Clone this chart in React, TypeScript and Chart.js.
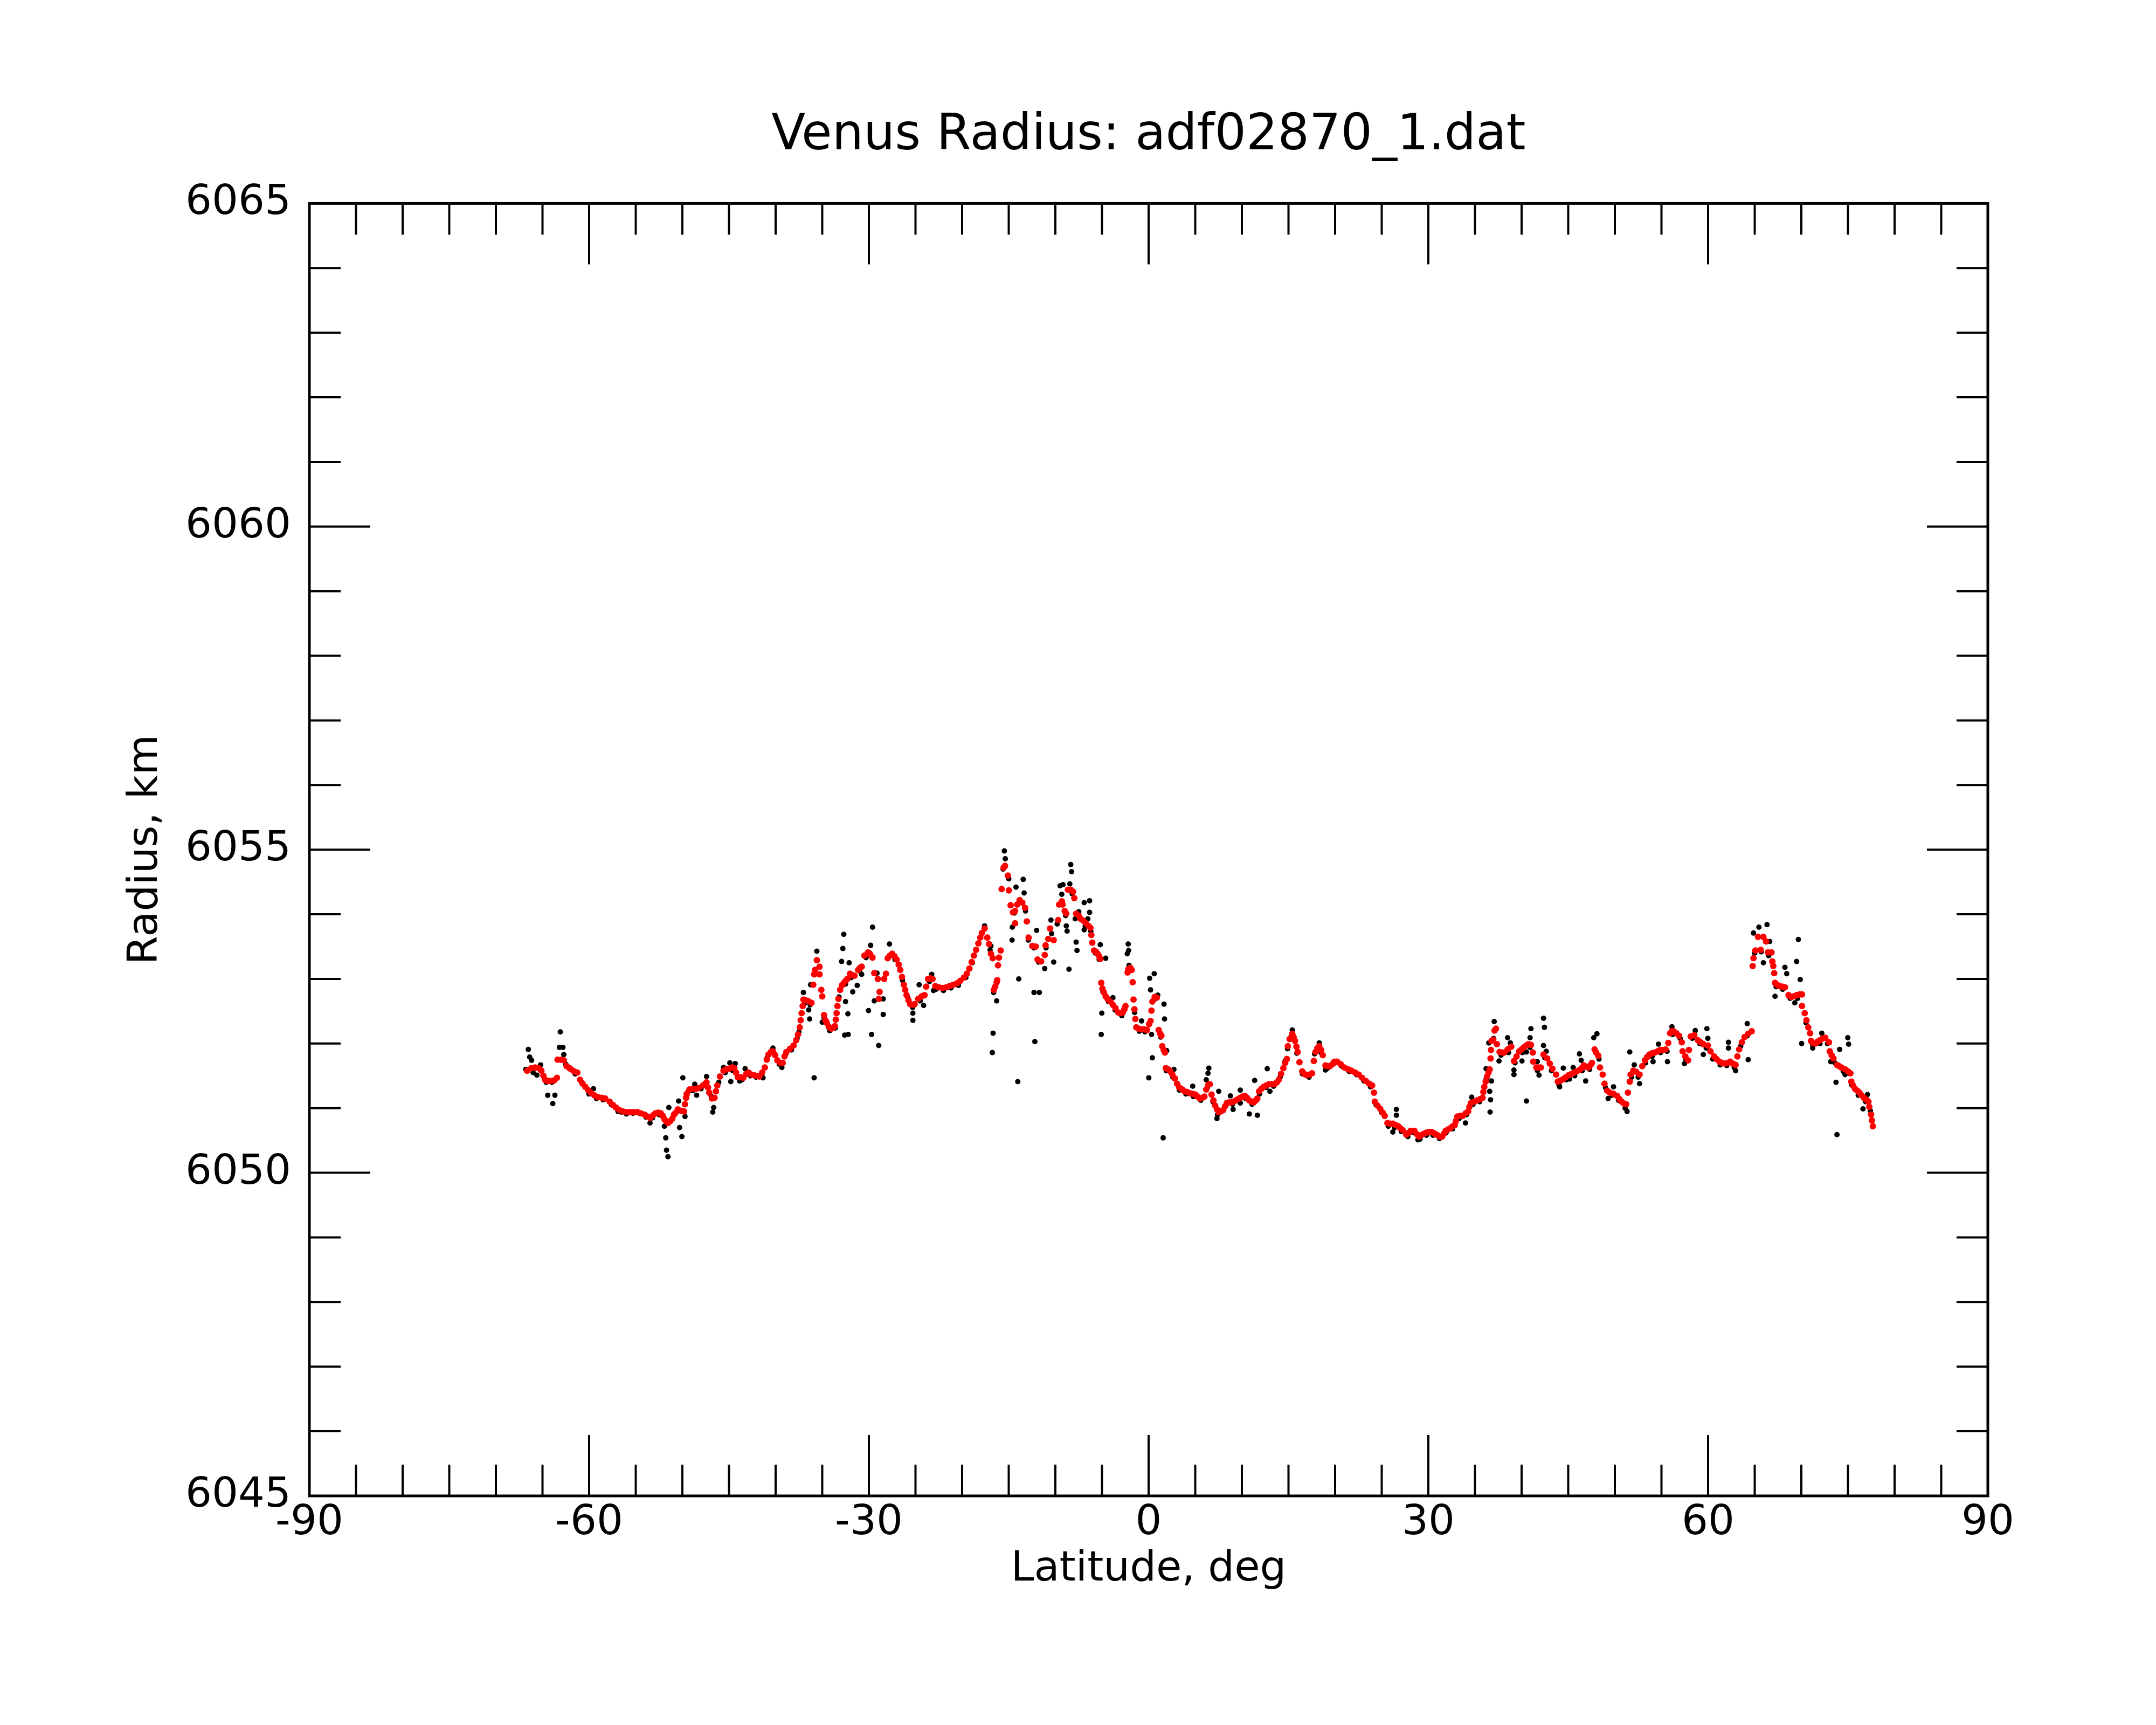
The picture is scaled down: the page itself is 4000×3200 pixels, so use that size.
import React, { useEffect, useRef } from 'react';
import { Chart, registerables } from 'chart.js';

Chart.register(...registerables);

const FONT = 'DejaVu Sans';

const chartTitle = 'Venus Radius: adf02870_1.dat';
const xTitle = 'Latitude, deg';
const yTitle = 'Radius, km';

// axis ranges and tick steps
const xRange = [-90, 90];
const yRange = [6045, 6065];
const xMajorStep = 30;
const xMinorStep = 5;
const yMajorStep = 5;
const yMinorStep = 1;

// smoothed profile (red), [latitude, radius]
const smoothProfile: [number, number][] = [
  [-66.65, 6051.58], [-66.2, 6051.62], [-65.79, 6051.63], [-65.4, 6051.62], [-65.12, 6051.58],
  [-64.9, 6051.5], [-64.73, 6051.44], [-64.45, 6051.42], [-64.15, 6051.42], [-63.75, 6051.43],
  [-63.45, 6051.47], [-63.38, 6051.75], [-63.0, 6051.75], [-62.71, 6051.74], [-62.42, 6051.65],
  [-62.1, 6051.62], [-61.94, 6051.6], [-61.6, 6051.57], [-61.27, 6051.55], [-60.98, 6051.44],
  [-60.7, 6051.38], [-60.4, 6051.33], [-60.1, 6051.28], [-59.82, 6051.24], [-59.45, 6051.2],
  [-59.05, 6051.17], [-58.65, 6051.16], [-58.28, 6051.15], [-57.8, 6051.1], [-57.45, 6051.05],
  [-57.13, 6051.01], [-56.75, 6050.97], [-56.36, 6050.95], [-55.95, 6050.94], [-55.59, 6050.94],
  [-55.2, 6050.94], [-54.82, 6050.94], [-54.45, 6050.92], [-54.05, 6050.9], [-53.75, 6050.87],
  [-53.47, 6050.85], [-53.15, 6050.89], [-52.9, 6050.92], [-52.6, 6050.93], [-52.32, 6050.92],
  [-52.1, 6050.88], [-51.93, 6050.83], [-51.75, 6050.8], [-51.55, 6050.77], [-51.3, 6050.8],
  [-51.07, 6050.84], [-50.9, 6050.9], [-50.78, 6050.92], [-50.49, 6050.98], [-50.15, 6050.96],
  [-49.82, 6050.95], [-49.72, 6051.06], [-49.6, 6051.16], [-49.53, 6051.22], [-49.24, 6051.29],
  [-48.86, 6051.3], [-48.55, 6051.3], [-48.28, 6051.31], [-47.8, 6051.35], [-47.41, 6051.4],
  [-47.25, 6051.32], [-47.12, 6051.24], [-46.83, 6051.15], [-46.55, 6051.16], [-46.4, 6051.26],
  [-46.26, 6051.35], [-45.97, 6051.49], [-45.59, 6051.58], [-45.3, 6051.6], [-45.01, 6051.61],
  [-44.7, 6051.63], [-44.43, 6051.62], [-44.25, 6051.55], [-44.05, 6051.48], [-43.75, 6051.48],
  [-43.47, 6051.47], [-43.15, 6051.53], [-42.89, 6051.55], [-42.6, 6051.52], [-42.31, 6051.51],
  [-42.0, 6051.5], [-41.74, 6051.49], [-41.45, 6051.55], [-41.16, 6051.63], [-40.95, 6051.75],
  [-40.77, 6051.83], [-40.5, 6051.87], [-40.29, 6051.88], [-40.05, 6051.82], [-39.81, 6051.74],
  [-39.5, 6051.7], [-39.24, 6051.7], [-39.05, 6051.8], [-38.85, 6051.87], [-38.45, 6051.92],
  [-38.08, 6051.97], [-37.8, 6052.05], [-37.6, 6052.14], [-37.41, 6052.25], [-37.31, 6052.36],
  [-37.21, 6052.47], [-37.1, 6052.58], [-37.02, 6052.68], [-36.8, 6052.67], [-36.54, 6052.66],
  [-36.16, 6052.63], [-35.96, 6052.91], [-35.87, 6053.07], [-35.77, 6053.14], [-35.58, 6053.29],
  [-35.29, 6053.19], [-35.29, 6053.07], [-35.1, 6052.83], [-35.0, 6052.73], [-34.81, 6052.44],
  [-34.65, 6052.36], [-34.52, 6052.32], [-34.3, 6052.26], [-34.04, 6052.23], [-33.85, 6052.24],
  [-33.65, 6052.27], [-33.55, 6052.37], [-33.46, 6052.47], [-33.37, 6052.58], [-33.27, 6052.69],
  [-33.08, 6052.83], [-32.9, 6052.9], [-32.69, 6052.94], [-32.5, 6052.97], [-32.31, 6053.0],
  [-32.02, 6053.08], [-31.8, 6053.06], [-31.54, 6053.05], [-31.15, 6053.14], [-30.95, 6053.17],
  [-30.77, 6053.19], [-30.48, 6053.36], [-30.09, 6053.41], [-29.85, 6053.38], [-29.61, 6053.33],
  [-29.42, 6053.09], [-29.04, 6053.0], [-28.85, 6052.8], [-28.94, 6052.69], [-28.36, 6053.0],
  [-28.17, 6053.08], [-27.98, 6053.32], [-27.75, 6053.36], [-27.5, 6053.39], [-27.25, 6053.35],
  [-27.02, 6053.3], [-26.8, 6053.22], [-26.63, 6053.14], [-26.45, 6053.03], [-26.25, 6052.91],
  [-26.1, 6052.83], [-25.96, 6052.75], [-25.75, 6052.67], [-25.57, 6052.61], [-25.3, 6052.6],
  [-25.09, 6052.61], [-24.71, 6052.69], [-24.35, 6052.73], [-24.03, 6052.75], [-23.85, 6052.88],
  [-23.65, 6053.0], [-23.4, 6053.01], [-23.17, 6053.0], [-22.88, 6052.89], [-22.5, 6052.87],
  [-22.11, 6052.86], [-21.7, 6052.87], [-21.34, 6052.89], [-20.95, 6052.91], [-20.57, 6052.93],
  [-20.2, 6052.97], [-19.8, 6053.02], [-19.5, 6053.08], [-19.22, 6053.16], [-18.98, 6053.26],
  [-18.74, 6053.36], [-18.5, 6053.45], [-18.26, 6053.55], [-18.05, 6053.64], [-17.88, 6053.71],
  [-17.59, 6053.78], [-17.3, 6053.64], [-17.11, 6053.54], [-16.91, 6053.39], [-16.72, 6053.32],
  [-16.6, 6052.83], [-16.45, 6052.88], [-16.3, 6052.95], [-16.24, 6052.98], [-16.15, 6053.21],
  [-16.05, 6053.33], [-15.86, 6053.44], [-15.76, 6054.39], [-15.55, 6054.72], [-15.4, 6054.75],
  [-15.09, 6054.6], [-14.99, 6054.37], [-14.8, 6054.14], [-14.55, 6054.03], [-14.32, 6054.05],
  [-14.1, 6054.15], [-13.83, 6054.22], [-13.55, 6054.18], [-13.25, 6054.1], [-14.32, 6053.86],
  [-13.06, 6053.89], [-12.87, 6053.64], [-12.48, 6053.51], [-12.1, 6053.5], [-11.91, 6053.3],
  [-11.53, 6053.27], [-11.14, 6053.37], [-11.05, 6053.52], [-10.76, 6053.62], [-10.57, 6053.78],
  [-10.18, 6053.6], [-9.7, 6053.91], [-9.6, 6054.15], [-9.3, 6054.2], [-9.22, 6054.15],
  [-9.0, 6054.05], [-8.83, 6054.01], [-8.65, 6054.38], [-8.35, 6054.38], [-8.1, 6054.35],
  [-7.97, 6054.25], [-7.77, 6054.01], [-7.5, 6053.98], [-7.29, 6053.93], [-7.0, 6053.9],
  [-6.72, 6053.86], [-6.45, 6053.82], [-6.24, 6053.79], [-6.14, 6053.68], [-6.04, 6053.56],
  [-5.85, 6053.44], [-5.65, 6053.42], [-5.47, 6053.39], [-5.3, 6053.35], [-5.18, 6053.31],
  [-5.08, 6052.94], [-4.95, 6052.85], [-4.79, 6052.79], [-4.6, 6052.73], [-4.41, 6052.69],
  [-4.1, 6052.65], [-3.83, 6052.6], [-3.55, 6052.55], [-3.25, 6052.48], [-3.0, 6052.47],
  [-2.77, 6052.48], [-2.6, 6052.53], [-2.48, 6052.58], [-2.25, 6053.1], [-2.19, 6053.15],
  [-1.95, 6053.17], [-1.81, 6053.14], [-1.71, 6052.95], [-1.62, 6052.68], [-1.52, 6052.53],
  [-1.42, 6052.38], [-1.33, 6052.25], [-1.05, 6052.23], [-0.75, 6052.22], [-0.45, 6052.22],
  [-0.17, 6052.21], [0.05, 6052.3], [0.21, 6052.35], [0.31, 6052.51], [0.4, 6052.65],
  [0.65, 6052.72], [0.88, 6052.71], [1.08, 6052.21], [1.25, 6052.15], [1.37, 6052.12],
  [1.46, 6051.96], [1.62, 6051.9], [1.75, 6051.86], [1.85, 6051.62], [2.1, 6051.6],
  [2.33, 6051.57], [2.55, 6051.52], [2.81, 6051.46], [3.05, 6051.38], [3.29, 6051.32],
  [3.6, 6051.29], [3.87, 6051.26], [4.15, 6051.25], [4.45, 6051.23], [4.75, 6051.22],
  [5.02, 6051.21], [5.25, 6051.18], [5.5, 6051.15], [5.75, 6051.16], [5.98, 6051.18],
  [6.18, 6051.29], [6.4, 6051.36], [6.56, 6051.37], [6.75, 6051.21], [6.95, 6051.12],
  [7.14, 6051.04], [7.33, 6050.98], [7.52, 6050.94], [7.75, 6050.95], [8.0, 6050.97],
  [8.2, 6051.03], [8.39, 6051.08], [8.6, 6051.09], [8.87, 6051.09], [9.1, 6051.1],
  [9.35, 6051.12], [9.6, 6051.14], [9.83, 6051.16], [10.05, 6051.18], [10.32, 6051.19],
  [10.55, 6051.16], [10.8, 6051.12], [11.05, 6051.1], [11.28, 6051.09], [11.5, 6051.12],
  [11.66, 6051.15], [11.85, 6051.26], [12.1, 6051.3], [12.33, 6051.33], [12.6, 6051.35],
  [12.91, 6051.37], [13.2, 6051.37], [13.49, 6051.37], [13.75, 6051.4], [13.97, 6051.44],
  [14.2, 6051.53], [14.45, 6051.62], [14.65, 6051.7], [14.83, 6051.76], [14.93, 6051.96],
  [15.12, 6052.07], [15.41, 6052.15], [15.55, 6052.1], [15.7, 6052.04], [15.85, 6051.95],
  [15.99, 6051.87], [16.18, 6051.71], [16.47, 6051.57], [16.7, 6051.53], [16.95, 6051.51],
  [17.25, 6051.52], [17.53, 6051.54], [17.72, 6051.73], [17.91, 6051.87], [18.1, 6051.93],
  [18.3, 6051.96], [18.5, 6051.9], [18.68, 6051.82], [18.97, 6051.66], [19.2, 6051.65],
  [19.45, 6051.65], [19.7, 6051.68], [19.93, 6051.72], [20.22, 6051.72], [20.6, 6051.68],
  [20.99, 6051.63], [21.4, 6051.6], [21.76, 6051.58], [22.15, 6051.55], [22.53, 6051.52],
  [22.9, 6051.47], [23.3, 6051.42], [23.65, 6051.38], [23.97, 6051.35], [24.17, 6051.24],
  [24.26, 6051.1], [24.55, 6051.04], [24.84, 6050.99], [25.1, 6050.93], [25.32, 6050.88],
  [25.61, 6050.77], [25.9, 6050.76], [26.19, 6050.76], [26.5, 6050.74], [26.77, 6050.72],
  [27.0, 6050.69], [27.25, 6050.66], [27.63, 6050.59], [27.9, 6050.62], [28.11, 6050.65],
  [28.5, 6050.65], [28.75, 6050.6], [28.98, 6050.56], [29.2, 6050.58], [29.46, 6050.6],
  [29.75, 6050.62], [30.04, 6050.63], [30.3, 6050.63], [30.52, 6050.62], [30.75, 6050.6],
  [31.0, 6050.58], [31.25, 6050.56], [31.48, 6050.56], [31.7, 6050.61], [31.86, 6050.65],
  [32.1, 6050.67], [32.35, 6050.69], [32.6, 6050.72], [32.83, 6050.74], [32.95, 6050.8],
  [33.11, 6050.87], [33.4, 6050.88], [33.69, 6050.88], [34.0, 6050.92], [34.27, 6050.95],
  [34.4, 6051.02], [34.56, 6051.08], [34.9, 6051.1], [35.23, 6051.12], [35.55, 6051.14],
  [35.81, 6051.16], [35.9, 6051.25], [36.0, 6051.33], [36.15, 6051.41], [36.29, 6051.49],
  [36.45, 6051.55], [36.58, 6051.6], [36.67, 6051.77], [36.72, 6051.9], [36.77, 6052.04],
  [36.96, 6052.06], [37.1, 6052.2], [37.25, 6052.23], [37.35, 6051.99], [37.64, 6051.87],
  [37.9, 6051.86], [38.12, 6051.86], [38.5, 6051.91], [38.89, 6051.95], [39.18, 6051.73],
  [39.46, 6051.8], [39.75, 6051.88], [40.0, 6051.91], [40.23, 6051.94], [40.5, 6051.97],
  [40.72, 6051.99], [41.0, 6051.98], [41.2, 6051.86], [41.25, 6051.72], [41.58, 6051.63],
  [41.85, 6051.63], [42.06, 6051.63], [42.35, 6051.83], [42.74, 6051.77], [43.02, 6051.69],
  [43.31, 6051.61], [43.7, 6051.52], [43.89, 6051.41], [44.2, 6051.43], [44.47, 6051.45],
  [44.75, 6051.48], [45.04, 6051.51], [45.35, 6051.53], [45.62, 6051.55], [45.9, 6051.57],
  [46.2, 6051.59], [46.45, 6051.62], [46.68, 6051.66], [46.95, 6051.64], [47.16, 6051.63],
  [47.4, 6051.67], [47.55, 6051.7], [47.83, 6051.91], [48.0, 6051.86], [48.22, 6051.81],
  [48.41, 6051.63], [48.7, 6051.52], [48.89, 6051.38], [49.18, 6051.27], [49.48, 6051.24],
  [49.86, 6051.22], [50.25, 6051.19], [50.5, 6051.14], [50.73, 6051.1], [51.0, 6051.07],
  [51.21, 6051.06], [51.4, 6051.24], [51.6, 6051.41], [51.69, 6051.52], [51.98, 6051.58],
  [52.3, 6051.56], [52.65, 6051.52], [52.94, 6051.65], [53.23, 6051.74], [53.45, 6051.79],
  [53.71, 6051.83], [54.0, 6051.85], [54.29, 6051.86], [54.6, 6051.88], [54.87, 6051.9],
  [55.15, 6051.9], [55.45, 6051.91], [55.73, 6052.01], [55.93, 6052.16], [56.1, 6052.19],
  [56.31, 6052.19], [56.6, 6052.16], [56.89, 6052.12], [57.18, 6052.02], [57.27, 6051.88],
  [57.56, 6051.8], [57.85, 6051.74], [57.95, 6051.9], [58.14, 6052.11], [58.52, 6052.13],
  [58.91, 6052.05], [59.2, 6052.02], [59.49, 6051.99], [59.97, 6051.97], [60.26, 6051.88],
  [60.64, 6051.8], [60.9, 6051.76], [61.22, 6051.72], [61.5, 6051.7], [61.8, 6051.69],
  [62.1, 6051.7], [62.37, 6051.72], [62.65, 6051.69], [62.95, 6051.67], [63.14, 6051.8],
  [63.33, 6051.91], [63.62, 6052.02], [63.91, 6052.1], [64.3, 6052.15], [64.68, 6052.19],
  [64.78, 6053.2], [64.87, 6053.32], [65.07, 6053.44], [65.35, 6053.65], [65.64, 6053.45],
  [65.93, 6053.65], [66.22, 6053.58], [66.41, 6053.41], [66.8, 6053.41], [66.89, 6053.27],
  [66.99, 6053.2], [67.09, 6053.09], [67.18, 6052.94], [67.4, 6052.91], [67.66, 6052.89],
  [67.95, 6052.88], [68.24, 6052.87], [68.63, 6052.75], [68.91, 6052.72], [69.2, 6052.73],
  [69.49, 6052.75], [69.8, 6052.76], [70.07, 6052.76], [70.07, 6052.58], [70.36, 6052.47],
  [70.55, 6052.36], [70.74, 6052.25], [70.94, 6052.16], [71.03, 6052.04], [71.25, 6052.01],
  [71.51, 6052.0], [71.75, 6052.03], [71.99, 6052.05], [72.3, 6052.08], [72.57, 6052.09],
  [72.96, 6052.02], [73.05, 6051.88], [73.25, 6051.82], [73.44, 6051.77], [73.82, 6051.67],
  [74.05, 6051.65], [74.3, 6051.63], [74.69, 6051.6], [75.0, 6051.57], [75.26, 6051.54],
  [75.36, 6051.41], [75.55, 6051.35], [75.75, 6051.3], [76.0, 6051.27], [76.23, 6051.24],
  [76.45, 6051.2], [76.71, 6051.16], [77.0, 6051.13], [77.19, 6051.1], [77.29, 6051.02],
  [77.48, 6050.9], [77.57, 6050.81], [77.67, 6050.72],
];

// raw measurements lying close to the profile (black)
const rawNearProfile: [number, number][] = [
  [-66.8, 6051.6], [-66.0, 6051.55], [-65.3, 6051.6], [-64.6, 6051.4], [-64.0, 6051.4],
  [-62.5, 6051.68], [-61.5, 6051.53], [-60.8, 6051.4], [-60.0, 6051.26], [-59.2, 6051.15],
  [-58.5, 6051.13], [-57.6, 6051.05], [-56.9, 6050.95], [-56.0, 6050.91], [-55.3, 6050.92],
  [-54.6, 6050.92], [-53.9, 6050.86], [-53.2, 6050.85], [-52.5, 6050.9], [-50.6, 6050.95],
  [-49.4, 6051.25], [-48.9, 6051.27], [-48.0, 6051.3], [-47.6, 6051.38], [-46.9, 6051.18],
  [-46.1, 6051.4], [-45.4, 6051.55], [-44.6, 6051.58], [-43.6, 6051.44], [-42.7, 6051.5],
  [-42.1, 6051.48], [-41.5, 6051.52], [-40.9, 6051.78], [-40.1, 6051.84], [-39.6, 6051.68],
  [-38.9, 6051.84], [-38.3, 6051.9], [-37.7, 6052.08], [-37.5, 6052.18], [-36.9, 6052.62],
  [-36.3, 6052.6], [-34.8, 6052.4], [-34.2, 6052.2], [-33.6, 6052.24], [-33.2, 6052.72],
  [-32.5, 6052.92], [-31.9, 6053.02], [-31.0, 6053.12], [-30.3, 6053.33], [-29.9, 6053.4],
  [-27.8, 6053.36], [-27.2, 6053.3], [-26.4, 6052.98], [-25.8, 6052.7], [-25.3, 6052.56],
  [-24.5, 6052.66], [-23.5, 6052.96], [-22.8, 6052.84], [-22.0, 6052.82], [-21.2, 6052.86],
  [-20.4, 6052.9], [-19.6, 6053.02], [-18.9, 6053.25], [-18.2, 6053.55], [-17.6, 6053.8],
  [-17.0, 6053.45], [-15.6, 6054.7], [-15.0, 6054.55], [-14.4, 6054.02], [-13.9, 6054.18],
  [-13.2, 6054.05], [-12.9, 6053.6], [-12.3, 6053.48], [-11.8, 6053.26], [-11.0, 6053.48],
  [-10.4, 6053.7], [-9.8, 6053.85], [-8.9, 6053.98], [-8.2, 6054.32], [-7.6, 6053.96],
  [-6.8, 6053.82], [-6.2, 6053.74], [-5.7, 6053.4], [-5.3, 6053.3], [-4.9, 6052.8],
  [-4.3, 6052.65], [-3.6, 6052.52], [-2.9, 6052.44], [-2.1, 6053.12], [-1.5, 6052.48],
  [-1.0, 6052.19], [-0.4, 6052.18], [0.6, 6052.68], [1.3, 6052.1], [1.9, 6051.58],
  [2.6, 6051.48], [3.3, 6051.28], [4.0, 6051.22], [4.8, 6051.18], [5.6, 6051.12],
  [6.3, 6051.32], [6.9, 6051.1], [7.4, 6050.9], [8.3, 6051.04], [9.0, 6051.06],
  [9.7, 6051.13], [10.4, 6051.15], [11.1, 6051.06], [11.9, 6051.22], [12.6, 6051.32],
  [13.4, 6051.34], [14.1, 6051.48], [14.9, 6051.92], [15.3, 6052.12], [15.9, 6051.85],
  [16.5, 6051.53], [17.2, 6051.48], [17.8, 6051.84], [18.5, 6051.86], [19.2, 6051.62],
  [20.0, 6051.7], [20.7, 6051.65], [21.5, 6051.57], [22.3, 6051.52], [23.1, 6051.42],
  [23.8, 6051.33], [24.4, 6051.05], [25.0, 6050.93], [25.7, 6050.72], [26.4, 6050.7],
  [27.1, 6050.64], [27.8, 6050.56], [28.4, 6050.62], [29.1, 6050.52], [29.8, 6050.58],
  [30.5, 6050.58], [31.2, 6050.53], [31.9, 6050.62], [32.6, 6050.68], [33.3, 6050.84],
  [34.1, 6050.9], [34.8, 6051.06], [35.5, 6051.1], [36.2, 6051.45], [37.0, 6052.08],
  [37.8, 6051.82], [38.6, 6051.86], [39.3, 6051.7], [40.1, 6051.86], [40.9, 6051.94],
  [41.7, 6051.58], [42.5, 6051.78], [43.2, 6051.58], [44.0, 6051.36], [44.8, 6051.44],
  [45.7, 6051.5], [46.5, 6051.58], [47.3, 6051.6], [48.3, 6051.76], [49.0, 6051.32],
  [49.7, 6051.2], [50.4, 6051.12], [51.1, 6051.0], [51.8, 6051.48], [52.5, 6051.48],
  [53.3, 6051.7], [54.0, 6051.8], [54.9, 6051.86], [55.6, 6051.88], [56.2, 6052.14],
  [57.0, 6052.08], [57.6, 6051.76], [58.3, 6052.08], [59.1, 6052.0], [59.8, 6051.93],
  [60.5, 6051.76], [61.3, 6051.67], [62.0, 6051.66], [62.8, 6051.63], [63.5, 6051.96],
  [64.2, 6052.12], [65.0, 6053.4], [65.7, 6053.42], [66.5, 6053.36], [67.3, 6052.88],
  [68.0, 6052.84], [68.8, 6052.7], [69.6, 6052.7], [70.5, 6052.32], [71.2, 6051.98],
  [72.0, 6052.0], [72.8, 6052.0], [73.6, 6051.7], [74.5, 6051.57], [75.4, 6051.36],
  [76.1, 6051.2], [76.9, 6051.1], [77.4, 6050.96],
];

// raw measurements scattered away from the profile (black)
const rawScatter: [number, number][] = [
  [-66.52, 6051.91], [-66.37, 6051.79], [-66.17, 6051.74], [-65.21, 6051.67], [-65.6, 6051.51],
  [-64.44, 6051.2], [-63.67, 6051.2], [-63.9, 6051.07], [-63.09, 6052.18], [-63.19, 6051.94],
  [-62.81, 6051.94], [-62.71, 6051.83], [-62.13, 6051.63], [-60.02, 6051.22], [-59.53, 6051.3],
  [-56.55, 6050.94], [-53.47, 6050.77], [-51.93, 6050.72], [-51.78, 6050.54], [-51.7, 6050.35],
  [-51.55, 6050.25], [-51.45, 6051.01], [-50.4, 6051.11], [-50.3, 6050.7], [-50.05, 6050.56],
  [-49.95, 6051.47], [-49.72, 6050.87], [-48.67, 6051.37], [-48.47, 6051.2], [-47.41, 6051.49],
  [-46.74, 6050.94], [-46.64, 6051.01], [-45.58, 6051.63], [-44.91, 6051.7], [-44.33, 6051.69],
  [-44.81, 6051.41], [-43.85, 6051.42], [-43.27, 6051.61], [-41.35, 6051.47], [-40.29, 6051.93],
  [-39.33, 6051.63],
  [-35.87, 6051.47], [-36.35, 6052.38], [-36.45, 6052.52], [-37.02, 6052.79], [-35.58, 6053.43],
  [-36.25, 6052.91], [-35.0, 6052.33], [-32.69, 6053.69], [-32.79, 6053.47], [-32.92, 6053.27],
  [-32.25, 6052.46], [-32.5, 6052.65], [-32.6, 6052.13], [-32.21, 6052.14], [-32.12, 6053.25],
  [-31.73, 6052.8], [-31.25, 6052.9], [-30.77, 6053.07], [-29.61, 6053.8], [-29.81, 6053.52],
  [-30.04, 6052.51], [-29.71, 6052.14], [-28.94, 6051.97], [-28.46, 6052.45], [-28.46, 6052.69],
  [-29.13, 6053.09], [-27.79, 6053.54], [-29.42, 6052.66], [-25.28, 6052.36], [-25.28, 6052.47],
  [-24.61, 6052.91], [-24.13, 6052.59], [-23.26, 6053.07], [-23.07, 6052.82], [-17.59, 6053.82],
  [-15.47, 6054.98], [-15.37, 6054.86], [-16.91, 6053.51], [-16.62, 6052.79], [-16.3, 6052.66],
  [-16.68, 6052.16], [-16.76, 6051.86], [-14.03, 6051.41], [-14.64, 6053.6], [-14.61, 6053.8],
  [-13.45, 6054.54], [-13.35, 6054.33], [-14.22, 6054.42], [-13.93, 6053.0], [-12.2, 6052.03],
  [-12.29, 6052.79], [-11.72, 6052.79], [-11.14, 6053.16], [-10.18, 6053.26], [-10.47, 6053.91],
  [-12.01, 6053.75], [-9.5, 6054.44],
  [-8.35, 6054.77], [-8.26, 6054.66], [-8.45, 6054.47], [-9.18, 6054.46], [-9.31, 6054.31],
  [-6.91, 6054.18], [-6.33, 6054.21], [-7.49, 6054.04], [-6.33, 6054.03], [-7.87, 6053.93],
  [-6.52, 6053.93], [-8.83, 6053.82], [-8.74, 6053.74], [-7.77, 6053.57], [-7.68, 6053.44],
  [-6.91, 6053.76], [-5.18, 6053.53], [-4.6, 6053.32], [-8.54, 6053.15], [-5.02, 6052.47],
  [-5.08, 6052.14], [-3.83, 6052.71], [-2.87, 6052.43], [-2.19, 6053.54], [-2.14, 6053.44],
  [-2.29, 6053.39], [-2.1, 6053.21], [0.6, 6053.08], [0.11, 6053.01], [0.21, 6052.83],
  [0.98, 6052.75], [1.65, 6052.61], [1.71, 6052.38], [-0.75, 6052.35], [0.4, 6051.78],
  [0.02, 6051.47], [1.56, 6050.54], [1.94, 6051.89], [0.31, 6052.14], [2.71, 6051.6],
  [4.73, 6051.34], [6.46, 6051.62], [6.37, 6051.54], [6.18, 6051.44], [7.52, 6051.26],
  [7.33, 6050.84], [8.77, 6051.19], [9.06, 6050.98], [9.83, 6051.28], [10.8, 6050.91],
  [11.66, 6050.89], [11.37, 6051.43], [12.72, 6051.61], [13.01, 6051.26], [14.64, 6051.73],
  [15.41, 6052.21], [18.3, 6052.01], [18.97, 6051.59], [9.83, 6051.08],
  [26.57, 6050.98], [26.57, 6050.89], [26.19, 6050.63], [28.88, 6050.51], [33.98, 6050.77],
  [34.65, 6051.17], [36.19, 6051.61], [36.77, 6051.42], [36.58, 6051.26], [36.67, 6051.13],
  [36.62, 6050.94], [36.48, 6052.01], [37.06, 6052.34], [38.5, 6052.09], [37.58, 6051.73],
  [38.79, 6052.01], [39.18, 6051.59], [39.18, 6051.52], [40.04, 6051.73], [40.52, 6051.11],
  [41.0, 6052.23], [40.91, 6052.09], [40.52, 6051.87], [42.35, 6052.39], [42.45, 6052.25],
  [42.35, 6051.97], [42.64, 6051.88], [41.68, 6051.72], [41.87, 6051.51], [44.08, 6051.33],
  [44.47, 6051.62], [45.53, 6051.63], [46.2, 6051.84], [46.39, 6051.74], [45.14, 6051.45],
  [46.87, 6051.42], [47.74, 6052.09], [48.08, 6052.15], [49.28, 6051.15],
  [49.86, 6051.33], [51.31, 6050.95], [51.6, 6051.87], [52.08, 6051.67], [52.65, 6051.38],
  [54.1, 6051.72], [54.68, 6051.99], [55.64, 6051.72], [56.12, 6052.26], [57.47, 6051.69],
  [58.62, 6052.2], [59.87, 6052.23], [59.97, 6052.08], [59.49, 6051.83], [62.18, 6052.02],
  [62.18, 6051.93], [62.95, 6051.58], [64.2, 6052.31], [64.3, 6051.75], [65.45, 6053.8],
  [66.32, 6053.84], [64.87, 6053.71], [66.61, 6053.58], [65.93, 6053.25], [69.68, 6053.61],
  [69.49, 6053.27], [69.88, 6052.99], [68.24, 6053.18], [68.43, 6053.08], [67.18, 6052.73],
  [69.3, 6052.63], [70.03, 6052.0], [71.22, 6051.93], [72.19, 6052.16], [73.72, 6051.4],
  [74.11, 6051.91], [74.98, 6052.09], [75.07, 6051.99], [73.82, 6050.59], [73.15, 6051.72],
  [74.69, 6051.52], [76.61, 6050.99], [77.09, 6051.21],
];

const toPoints = (rows: [number, number][]) => rows.map(([x, y]) => ({ x, y }));

// centre the title over the plot box rather than the whole canvas
const titleOverPlot = {
  id: 'titleOverPlot',
  afterLayout(chart: any) {
    const t = chart.titleBlock;
    if (!t) return;
    t.left = chart.chartArea.left;
    t.right = chart.chartArea.right;
    t.width = t.right - t.left;
  },
};

// box around the plot plus inward ticks on all four sides
const framePlugin = {
  id: 'frame',
  afterDraw(chart: any) {
    const { ctx, chartArea: a, scales } = chart;
    const line = (x1: number, y1: number, x2: number, y2: number) => {
      ctx.beginPath();
      ctx.moveTo(x1, y1);
      ctx.lineTo(x2, y2);
      ctx.stroke();
    };
    ctx.save();
    ctx.strokeStyle = '#000';
    ctx.lineWidth = 4;
    for (let v = xRange[0] + xMinorStep; v < xRange[1]; v += xMinorStep) {
      const px = scales.x.getPixelForValue(v);
      const len = v % xMajorStep === 0 ? 113 : 58;
      line(px, a.bottom, px, a.bottom - len);
      line(px, a.top, px, a.top + len);
    }
    for (let v = yRange[0] + yMinorStep; v < yRange[1]; v += yMinorStep) {
      const py = scales.y.getPixelForValue(v);
      const len = (v - yRange[0]) % yMajorStep === 0 ? 113 : 58;
      line(a.left, py, a.left + len, py);
      line(a.right, py, a.right - len, py);
    }
    ctx.lineWidth = 5;
    ctx.strokeRect(a.left, a.top, a.right - a.left, a.bottom - a.top);
    ctx.restore();
  },
};

const VenusRadiusChart: React.FC = () => {
  const chartRef = useRef<HTMLCanvasElement>(null);
  const chartInstanceRef = useRef<Chart | null>(null);

  useEffect(() => {
    if (!chartRef.current) return;
    if (chartInstanceRef.current) chartInstanceRef.current.destroy();

    const tickFont = { family: FONT, size: 77 };

    chartInstanceRef.current = new Chart(chartRef.current, {
      type: 'scatter',
      data: {
        datasets: [
          {
            label: 'smoothed',
            data: toPoints(smoothProfile),
            pointRadius: 6,
            pointBorderWidth: 0,
            pointBackgroundColor: '#ff0000',
            order: 0,
          },
          {
            label: 'raw',
            data: [...toPoints(rawNearProfile), ...toPoints(rawScatter)],
            pointRadius: 5,
            pointBorderWidth: 0,
            pointBackgroundColor: '#000000',
            order: 1,
          },
        ],
      },
      options: {
        animation: false,
        responsive: false,
        devicePixelRatio: 1,
        layout: { padding: { left: 0, right: 312, top: 0, bottom: 0 } },
        plugins: {
          legend: { display: false },
          tooltip: { enabled: false },
          title: {
            display: true,
            text: chartTitle,
            color: '#000',
            font: { family: FONT, size: 92, weight: 'normal' },
            padding: { top: 198, bottom: 69 },
          },
        },
        scales: {
          x: {
            type: 'linear',
            position: 'bottom',
            min: xRange[0],
            max: xRange[1],
            grid: { display: false, drawTicks: false },
            border: { display: false },
            ticks: {
              stepSize: xMajorStep,
              color: '#000',
              font: tickFont,
              padding: 5,
              maxRotation: 0,
              autoSkip: false,
              callback: (v: any) => String(v),
            },
            title: { display: true, text: xTitle, color: '#000', font: tickFont, padding: { top: 0, bottom: 242 } },
            afterFit: (scale: any) => { scale.height = 425; },
          },
          y: {
            type: 'linear',
            min: yRange[0],
            max: yRange[1],
            grid: { display: false, drawTicks: false },
            border: { display: false },
            ticks: {
              stepSize: yMajorStep,
              color: '#000',
              font: tickFont,
              padding: 34,
              callback: (v: any) => String(v),
            },
            title: { display: true, text: yTitle, color: '#000', font: tickFont, padding: { top: 225, bottom: 0 } },
            afterFit: (scale: any) => { scale.width = 574; },
          },
        },
      } as any,
      plugins: [titleOverPlot, framePlugin],
    });

    return () => {
      if (chartInstanceRef.current) {
        chartInstanceRef.current.destroy();
        chartInstanceRef.current = null;
      }
    };
  }, []);

  return (
    <div style={{ position: 'absolute', left: 0, top: 0, width: 4000, height: 3200, background: '#fff' }}>
      <canvas ref={chartRef} width={4000} height={3200} style={{ display: 'block' }}></canvas>
    </div>
  );
};

export default function App() {
  return <VenusRadiusChart />;
}
